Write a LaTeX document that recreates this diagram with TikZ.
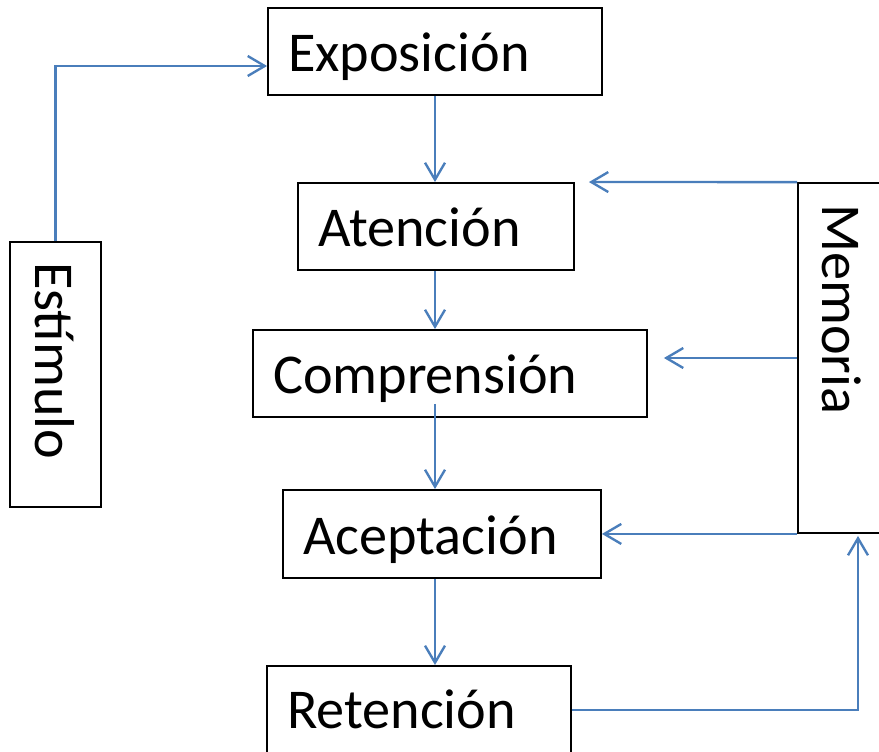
\documentclass[tikz,border=0pt]{standalone}
\usepackage{fontspec}
\setmainfont{Carlito}
\usepackage{tikz}
\usetikzlibrary{arrows.meta,calc}
\definecolor{AzulFlecha}{RGB}{74,126,187}

\begin{document}
\begin{tikzpicture}[x=0.02cm, y=-0.02cm,
    >={Straight Barb[length=0.34cm,width=0.4cm]},
    caja/.style={draw, line width=1.1pt, inner xsep=0.4cm, inner ysep=0pt,
        text height=31.3pt, text depth=8pt,
        align=left, font=\fontsize{32}{38}\selectfont},
    flecha/.style={->, line width=1.35pt, AzulFlecha}]
    \useasboundingbox (0,0) rectangle (879,751);

    % etapas
    \node[caja, minimum width=6.68cm, minimum height=1.74cm, text width=5.88cm]
        (expo) at (435,51.5) {Exposición};
    \node[caja, minimum width=5.52cm, minimum height=1.74cm, text width=4.72cm]
        (aten) at (436,226.5) {Atención};
    \node[caja, minimum width=7.88cm, minimum height=1.74cm, text width=7.08cm]
        (comp) at (450,373.5) {Comprensión};
    \node[caja, minimum width=6.36cm, minimum height=1.76cm, text width=5.56cm]
        (acep) at (442,534) {Aceptación};
    \node[caja, anchor=north, minimum width=6.08cm, minimum height=1.84cm, text width=5.28cm,
        text height=27.3pt]
        (rete) at (419,665) {Retención};

    % laterales (rotados: west arriba, south a la izquierda)
    \node[caja, rotate=-90, minimum width=5.3cm, minimum height=1.82cm, text width=4.5cm]
        (esti) at (55.5,374.5) {Estímulo};
    \node[caja, rotate=-90, minimum width=7cm, minimum height=1.8cm, text width=6.16cm,
        inner xsep=0.42cm]
        (memo) at (843,358) {Memoria};

    \draw[flecha] (esti.west) |- ([yshift=-0.29cm]expo.west);
    \draw[flecha] (expo.south) -- (expo.south |- aten.north);
    \draw[flecha] (expo.south |- aten.south) -- (expo.south |- comp.north);
    \draw[flecha] ([yshift=0.28cm]expo.south |- comp.south) -- (expo.south |- acep.north);
    \draw[flecha] (expo.south |- acep.south) -- (expo.south |- rete.north);

    \draw[flecha] (memo.south west) -- ([xshift=0.28cm]aten.north east);
    \draw[flecha] (memo.south) -- ([xshift=0.32cm]comp.east |- memo.south);
    \draw[flecha] (memo.south east) -- (memo.south east -| acep.east);
    \draw[flecha] ([yshift=0.04cm]rete.east) -| ([xshift=0.3cm,yshift=-0.04cm]memo.east);
\end{tikzpicture}
\end{document}
